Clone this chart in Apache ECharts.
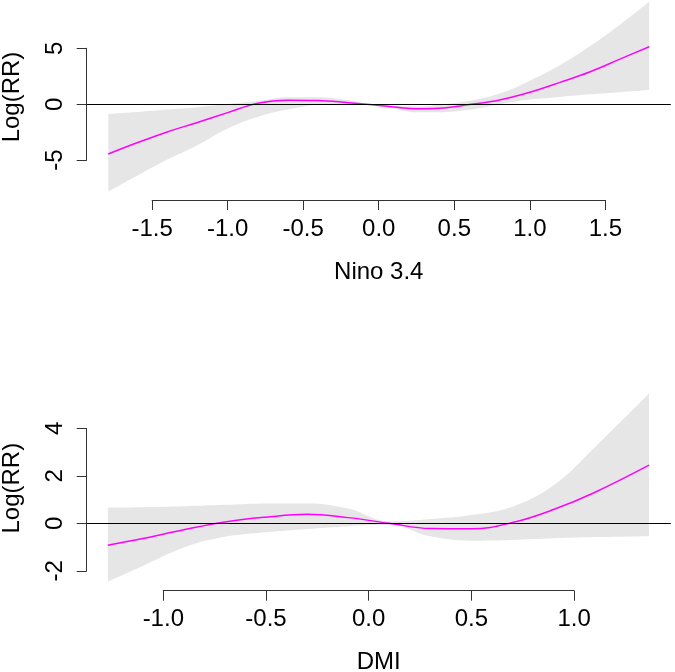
<!DOCTYPE html>
<html><head><meta charset="utf-8">
<script src="https://cdn.jsdelivr.net/npm/echarts@6/dist/echarts.min.js"></script>
<style>html,body{margin:0;padding:0;background:#fff}#c{width:675px;height:672px}</style>
</head><body><div id="c"></div>
<script>
// ---- Panel 1: Nino 3.4 ----
const ninoX     = [-1.79,-1.6,-1.4,-1.2,-1.0,-0.8,-0.6,-0.4,-0.2,-0.08,0.1,0.25,0.4,0.6,0.8,1.0,1.2,1.4,1.6,1.79];
const ninoFit   = [-4.45,-3.45,-2.48,-1.63,-0.75,0.09,0.35,0.33,0.14,0.0,-0.25,-0.40,-0.36,-0.03,0.38,1.07,1.95,2.9,4.05,5.14];
const ninoUpper = [-0.87,-0.70,-0.48,-0.26,0.02,0.28,0.62,0.62,0.35,0.05,-0.12,-0.2,-0.05,0.3,0.95,2.1,3.5,5.2,7.15,9.15];
const ninoLower = [-7.81,-6.4,-4.95,-3.66,-2.17,-1.12,-0.48,-0.06,-0.1,-0.05,-0.4,-0.72,-0.72,-0.5,0.0,0.42,0.65,0.88,1.08,1.27];
const ninoXTicks = [-1.5,-1.0,-0.5,0.0,0.5,1.0,1.5];
const ninoYTicks = [-5,0,5];

// ---- Panel 2: DMI ----
const dmiX     = [-1.27,-1.1,-0.9,-0.7,-0.5,-0.3,-0.1,0.1,0.3,0.5,0.7,0.9,1.1,1.365];
const dmiFit   = [-0.92,-0.64,-0.27,0.06,0.26,0.38,0.24,0.0,-0.22,-0.23,0.03,0.58,1.30,2.45];
const dmiUpper = [0.67,0.68,0.72,0.78,0.84,0.84,0.62,0.08,0.18,0.35,0.7,1.6,3.2,5.47];
const dmiLower = [-2.46,-1.8,-1.02,-0.57,-0.38,-0.24,-0.12,-0.06,-0.55,-0.73,-0.70,-0.63,-0.58,-0.54];
const dmiXTicks = [-1.0,-0.5,0.0,0.5,1.0];
const dmiYTicks = [-2,0,2,4];

const xNames = ['Nino 3.4','DMI'];
const yName = 'Log(RR)';

const FONT = "'Liberation Sans', Arial, sans-serif";
const FS = 24;
const SMOOTH = 0.4;

const panels = [
  {x: ninoX, fit: ninoFit, up: ninoUpper, lo: ninoLower, xt: ninoXTicks, yt: ninoYTicks, name: xNames[0],
   left: 86.7, right: 670.8, top: -6, bottom: 200, xmin: -1.933, xmax: 1.933, ymin: -8.56, ymax: 9.85},
  {x: dmiX, fit: dmiFit, up: dmiUpper, lo: dmiLower, xt: dmiXTicks, yt: dmiYTicks, name: xNames[1],
   left: 86.7, right: 670.8, top: 385.7, bottom: 590.7, xmin: -1.373, xmax: 1.471, ymin: -2.84, ymax: 5.80}
];

const grid = [], xAxis = [], yAxis = [], series = [];

panels.forEach((p, pi) => {
  const pxPerX = (p.right - p.left) / (p.xmax - p.xmin);
  const pxPerY = (p.bottom - p.top) / (p.ymax - p.ymin);
  const toPx = v => p.left + (v - p.xmin) * pxPerX;
  const toPy = v => p.top + (p.ymax - v) * pxPerY;
  const g0 = grid.length;
  grid.push({left: p.left, top: p.top, width: p.right - p.left, height: p.bottom - p.top,
    containLabel: false, outerBoundsMode: 'none'});
  xAxis.push({gridIndex: g0, type: 'value', min: p.xmin, max: p.xmax,
    axisLine: {show: false}, axisTick: {show: false}, axisLabel: {show: false}, splitLine: {show: false},
    name: p.name, nameLocation: 'middle', nameGap: 60,
    nameTextStyle: {fontFamily: FONT, fontSize: FS, color: '#000'}});
  yAxis.push({gridIndex: g0, type: 'value', min: p.ymin, max: p.ymax,
    axisLine: {show: false}, axisTick: {show: false}, axisLabel: {show: false}, splitLine: {show: false},
    name: yName, nameLocation: 'middle', nameGap: 62,
    nameTextStyle: {fontFamily: FONT, fontSize: FS, color: '#000'}});
  const yt0 = p.yt[0], yt1 = p.yt[p.yt.length - 1];
  const gy = grid.length;
  grid.push({left: p.left, width: 1, top: toPy(yt1), height: toPy(yt0) - toPy(yt1),
    containLabel: false, outerBoundsMode: 'none'});
  xAxis.push({gridIndex: gy, type: 'value', show: false});
  yAxis.push({gridIndex: gy, type: 'value', min: yt0, max: yt1, interval: p.yt[1] - p.yt[0],
    axisLine: {show: true, lineStyle: {color: '#333', width: 1}},
    axisTick: {show: true, length: 10, lineStyle: {color: '#333', width: 1}},
    axisLabel: {rotate: 90, margin: 19, fontFamily: FONT, fontSize: FS, color: '#000'},
    splitLine: {show: false}});
  const xt0 = p.xt[0], xt1 = p.xt[p.xt.length - 1];
  const gx = grid.length;
  grid.push({left: toPx(xt0), width: toPx(xt1) - toPx(xt0), top: p.bottom - 1, height: 1,
    containLabel: false, outerBoundsMode: 'none'});
  xAxis.push({gridIndex: gx, type: 'value', min: xt0, max: xt1, interval: p.xt[1] - p.xt[0],
    axisLine: {show: true, onZero: false, lineStyle: {color: '#333', width: 1}},
    axisTick: {show: true, length: 10, lineStyle: {color: '#333', width: 1}},
    axisLabel: {margin: 17, fontFamily: FONT, fontSize: FS, color: '#000', formatter: v => v.toFixed(1)},
    splitLine: {show: false}});
  yAxis.push({gridIndex: gx, type: 'value', show: false});

  // confidence band: lower bound + (upper - lower) stacked on the y dimension
  // data items are [y, x] with encode so the first (stacked) dimension is y
  const stackId = 'band' + pi;
  series.push({type: 'line', xAxisIndex: g0, yAxisIndex: g0, symbol: 'none', silent: true, z: 1,
    stack: stackId, stackStrategy: 'all', encode: {x: 1, y: 0},
    smooth: SMOOTH, lineStyle: {width: 0, opacity: 0},
    data: p.x.map((v, i) => [p.lo[i], v])});
  series.push({type: 'line', xAxisIndex: g0, yAxisIndex: g0, symbol: 'none', silent: true, z: 1,
    stack: stackId, stackStrategy: 'all', encode: {x: 1, y: 0},
    smooth: SMOOTH, lineStyle: {width: 0, opacity: 0},
    areaStyle: {color: '#e6e6e6', opacity: 1},
    data: p.x.map((v, i) => [p.up[i] - p.lo[i], v])});
  series.push({type: 'line', xAxisIndex: g0, yAxisIndex: g0, symbol: 'none', silent: true, z: 3,
    smooth: SMOOTH, lineStyle: {color: '#ff00ff', width: 1.5},
    data: p.x.map((v, i) => [v, p.fit[i]]),
    markLine: {silent: true, symbol: 'none', label: {show: false}, animation: false,
      lineStyle: {color: '#000', width: 1.2, type: 'solid'}, data: [{yAxis: 0}]}});
});

const chart = echarts.init(document.getElementById('c'), null, {renderer: 'canvas'});
chart.setOption({animation: false, backgroundColor: '#fff', grid, xAxis, yAxis, series});
</script>
</body></html>
